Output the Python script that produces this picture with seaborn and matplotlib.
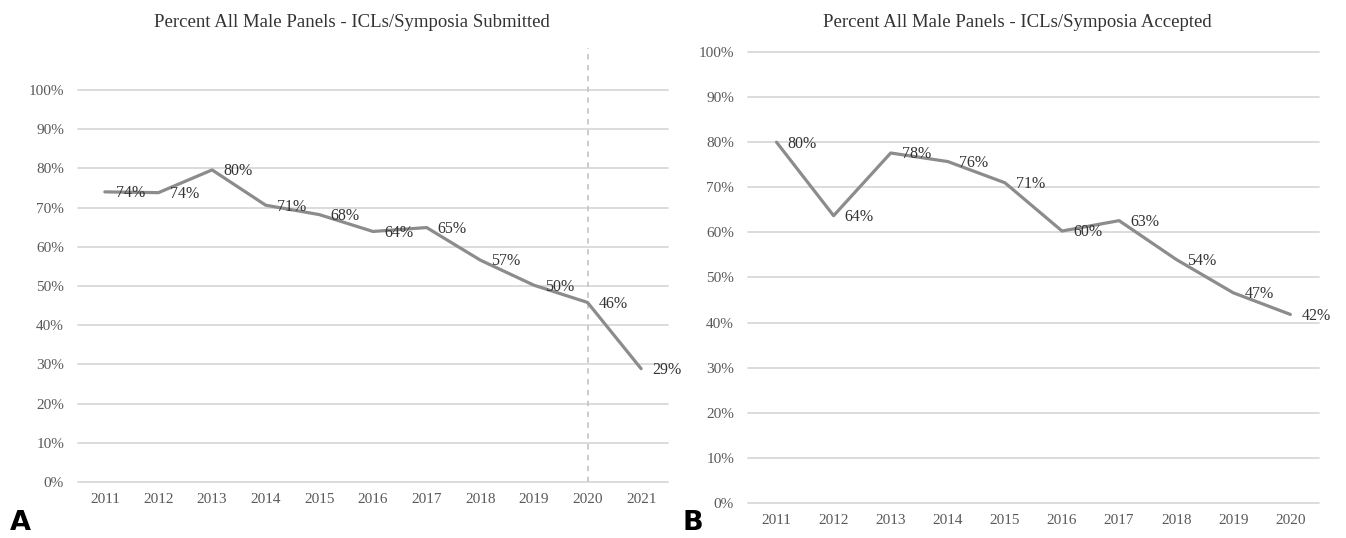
import numpy as np
import pandas as pd
import matplotlib
matplotlib.use("Agg")
import matplotlib.pyplot as plt
import seaborn as sns

# datos
years_sub = [2011, 2012, 2013, 2014, 2015, 2016, 2017, 2018, 2019, 2020, 2021]
pct_sub = [74.0, 73.8, 79.6, 70.6, 68.2, 63.9, 64.9, 56.6, 50.2, 45.8, 28.9]

years_acc = [2011, 2012, 2013, 2014, 2015, 2016, 2017, 2018, 2019, 2020]
pct_acc = [80.0, 63.7, 77.6, 75.7, 71.0, 60.3, 62.6, 54.0, 46.6, 41.8]

y_ticks = [0, 10, 20, 30, 40, 50, 60, 70, 80, 90, 100]
marker_year = 2020

title_sub = "Percent All Male Panels - ICLs/Symposia Submitted"
title_acc = "Percent All Male Panels - ICLs/Symposia Accepted"

sns.set_style("white")
plt.rcParams['font.family'] = ['Liberation Serif', 'DejaVu Serif']

line_col = "#8c8c8c"
grid_col = "#d9d9d9"
tick_col = "#595959"
lab_col = "#333333"

fig = plt.figure(figsize=(13.46, 5.38), dpi=100)
ax_a = fig.add_axes([0.05795, 0.1041, 0.4383, 0.8067])
ax_b = fig.add_axes([0.5557, 0.0651, 0.4242, 0.8467])


def panel(ax, years, vals, ytop):
    df = pd.DataFrame({"year": years, "pct": vals})
    sns.lineplot(data=df, x="year", y="pct", ax=ax, color=line_col, linewidth=2.3)
    for x, y in zip(years, vals):
        ax.annotate(f"{y:.0f}%", (x, y), xytext=(8, -1), textcoords="offset points",
                    ha="left", va="center", fontsize=11.5, color=lab_col)
    ax.set_xlim(years[0] - 0.5, years[-1] + 0.5)
    ax.set_ylim(0, ytop)
    ax.set_xticks(years)
    ax.set_xticklabels([str(y) for y in years])
    ax.set_yticks(y_ticks)
    ax.set_yticklabels([f"{t}%" for t in y_ticks])
    for t in y_ticks:
        ax.axhline(t, color=grid_col, linewidth=1.3, zorder=0, clip_on=False)
    ax.tick_params(axis="both", length=0, labelsize=11, labelcolor=tick_col)
    ax.tick_params(axis="x", pad=8)
    ax.tick_params(axis="y", pad=10)
    ax.set_xlabel("")
    ax.set_ylabel("")
    sns.despine(ax=ax, left=True, bottom=True)


panel(ax_a, years_sub, pct_sub, 110.7)
ax_a.axvline(marker_year, color="#c8c8c8", linestyle=(0, (3, 3)), linewidth=1.3, zorder=0)
panel(ax_b, years_acc, pct_acc, 101)

fig.text(0.2615, 0.959, title_sub, ha="center", va="center", fontsize=13.5, color=lab_col)
fig.text(0.7555, 0.959, title_acc, ha="center", va="center", fontsize=13.5, color=lab_col)

fig.text(0.0074, 0.014, "A", fontsize=19.5, fontweight="bold", family="DejaVu Sans", color="black")
fig.text(0.5067, 0.014, "B", fontsize=19.5, fontweight="bold", family="DejaVu Sans", color="black")

fig.savefig("out.png", dpi=100)
